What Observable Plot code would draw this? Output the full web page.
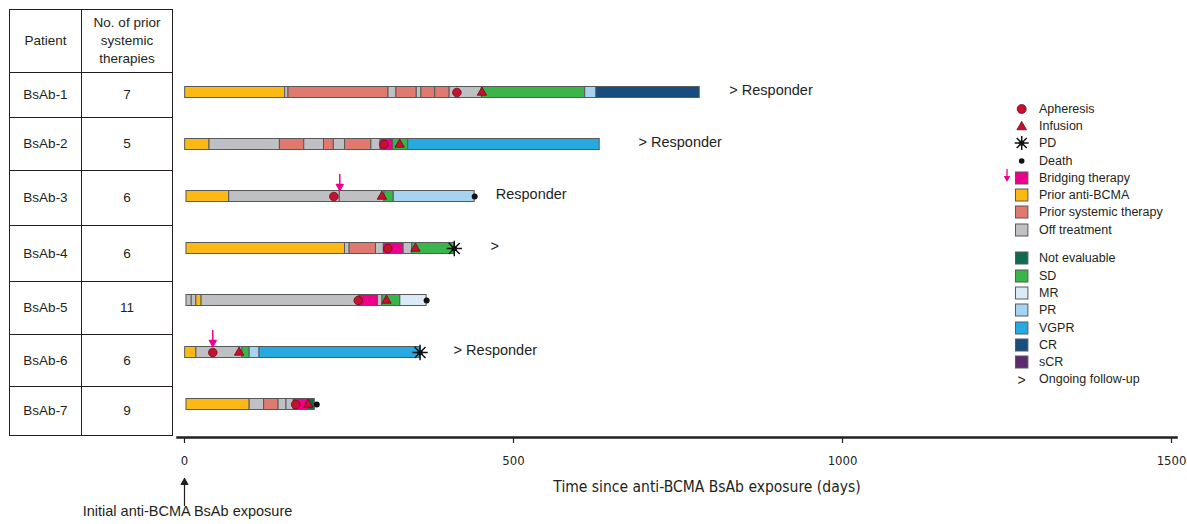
<!DOCTYPE html>
<html>
<head>
<meta charset="utf-8">
<script src="https://cdn.jsdelivr.net/npm/d3@7"></script>
<script src="https://cdn.jsdelivr.net/npm/@observablehq/plot@0.6"></script>
<style>
  body { margin: 0; background: #fff; }
  #wrap { position: relative; width: 1187px; height: 524px; overflow: hidden;
          font-family: "Liberation Sans", Arial, sans-serif; color: #231f20; }
  #chart { position: absolute; left: 0; top: 0; }
  #tbl { position: absolute; left: 9px; top: 9px; border-collapse: collapse; font-size: 13.5px; }
  #tbl td, #tbl th { border: 1.2px solid #231f20; text-align: center; font-weight: normal; padding: 0; line-height: 18px; }
  #legend { position: absolute; left: 1000px; top: 100px; font-size: 12.5px; }
  #legend .row { display: flex; align-items: center; height: 17.3px; white-space: nowrap; }
  #legend .gap { height: 11.4px; }
  #legend svg { flex: none; }
</style>
</head>
<body>
<div id="wrap">
  <div id="chart"></div>
  <table id="tbl"></table>
  <div id="legend"></div>
</div>
<script>
// ---------------- data ----------------
const patients = ["BsAb-1", "BsAb-2", "BsAb-3", "BsAb-4", "BsAb-5", "BsAb-6", "BsAb-7"];
const priorTherapies = [7, 5, 6, 6, 11, 6, 9];
const tableHeader = ["Patient", "No. of prior\nsystemic\ntherapies"];

const markerLegend = ["Apheresis", "Infusion", "PD", "Death"];
const therapyLegend = ["Bridging therapy", "Prior anti-BCMA", "Prior systemic therapy", "Off treatment"];
const responseLegend = ["Not evaluable", "SD", "MR", "PR", "VGPR", "CR", "sCR"];
const followUpLegend = "Ongoing follow-up";

// [patient, start day, end day, status]
const segments = [
  ["BsAb-1", 1, 153, "Prior anti-BCMA"],
  ["BsAb-1", 153, 158, "Off treatment"],
  ["BsAb-1", 158, 310, "Prior systemic therapy"],
  ["BsAb-1", 310, 322, "Off treatment"],
  ["BsAb-1", 322, 353, "Prior systemic therapy"],
  ["BsAb-1", 353, 360, "Off treatment"],
  ["BsAb-1", 360, 381, "Prior systemic therapy"],
  ["BsAb-1", 381, 403, "Prior systemic therapy"],
  ["BsAb-1", 403, 452, "Off treatment"],
  ["BsAb-1", 452, 609, "SD"],
  ["BsAb-1", 609, 626, "PR"],
  ["BsAb-1", 626, 783, "CR"],

  ["BsAb-2", 1, 38, "Prior anti-BCMA"],
  ["BsAb-2", 38, 145, "Off treatment"],
  ["BsAb-2", 145, 182, "Prior systemic therapy"],
  ["BsAb-2", 182, 212, "Off treatment"],
  ["BsAb-2", 212, 227, "Prior systemic therapy"],
  ["BsAb-2", 227, 244, "Off treatment"],
  ["BsAb-2", 244, 284, "Prior systemic therapy"],
  ["BsAb-2", 284, 298, "Off treatment"],
  ["BsAb-2", 298, 317, "Bridging therapy"],
  ["BsAb-2", 317, 340, "SD"],
  ["BsAb-2", 340, 631, "VGPR"],

  ["BsAb-3", 3, 68, "Prior anti-BCMA"],
  ["BsAb-3", 68, 236, "Off treatment"],
  ["BsAb-3", 236, 304, "Off treatment"],
  ["BsAb-3", 304, 318, "SD"],
  ["BsAb-3", 318, 441, "PR"],

  ["BsAb-4", 3, 244, "Prior anti-BCMA"],
  ["BsAb-4", 244, 251, "Off treatment"],
  ["BsAb-4", 251, 291, "Prior systemic therapy"],
  ["BsAb-4", 291, 303, "Off treatment"],
  ["BsAb-4", 303, 333, "Bridging therapy"],
  ["BsAb-4", 333, 346, "Off treatment"],
  ["BsAb-4", 346, 410, "SD"],

  ["BsAb-5", 3, 11, "Off treatment"],
  ["BsAb-5", 11, 18, "Off treatment"],
  ["BsAb-5", 18, 26, "Prior anti-BCMA"],
  ["BsAb-5", 26, 265, "Off treatment"],
  ["BsAb-5", 265, 294, "Bridging therapy"],
  ["BsAb-5", 294, 301, "Off treatment"],
  ["BsAb-5", 301, 328, "SD"],
  ["BsAb-5", 328, 368, "MR"],

  ["BsAb-6", 1, 18, "Prior anti-BCMA"],
  ["BsAb-6", 18, 88, "Off treatment"],
  ["BsAb-6", 88, 99, "SD"],
  ["BsAb-6", 99, 114, "PR"],
  ["BsAb-6", 114, 358, "VGPR"],

  ["BsAb-7", 3, 99, "Prior anti-BCMA"],
  ["BsAb-7", 99, 121, "Off treatment"],
  ["BsAb-7", 121, 143, "Prior systemic therapy"],
  ["BsAb-7", 143, 155, "Off treatment"],
  ["BsAb-7", 155, 166, "Off treatment"],
  ["BsAb-7", 166, 188, "Bridging therapy"],
  ["BsAb-7", 188, 198, "Not evaluable"]
];

const apheresisDays = [414, 303, 227, 309, 264, 43, 169];
const infusionDays  = [452, 327, 300, 351, 307, 83, 188];
const pdEvents      = [["BsAb-4", 410], ["BsAb-6", 358]];
const deathEvents   = [["BsAb-3", 441], ["BsAb-5", 368], ["BsAb-7", 201]];
const bridgingArrows = [["BsAb-3", 236], ["BsAb-6", 43]];
const endLabels = [
  ["BsAb-1", 828, "> Responder"],
  ["BsAb-2", 690, "> Responder"],
  ["BsAb-3", 473, "Responder"],
  ["BsAb-4", 465, ">"],
  ["BsAb-6", 409, "> Responder"]
];
const xTicks = [0, 500, 1000, 1500];
const xTitle = "Time since anti-BCMA BsAb exposure (days)";
const startNote = "Initial anti-BCMA BsAb exposure";

// ---------------- styles ----------------
const statusColors = ["#ec008c", "#fdb913", "#e07a6e", "#bfc0c4",
                      "#0f6b4f", "#3ab54a", "#dbeaf7", "#a5d3f1", "#27aae1", "#174d7f", "#5c2a6e"];
const statuses = [...therapyLegend, ...responseLegend];
const red = "#c8102e", redEdge = "#6a0b17", ink = "#231f20", barEdge = "#58595b", pink = "#ec008c";
const narrow = "'DejaVu Sans Condensed', 'Liberation Sans Narrow', sans-serif";

// ---------------- tables built from data ----------------
const segData = segments.map(([patient, start, end, status]) => ({patient, start, end, status}));
const aph = patients.map((patient, i) => ({patient, day: apheresisDays[i]}));
const inf = patients.map((patient, i) => ({patient, day: infusionDays[i]}));
const pd = pdEvents.map(([patient, day]) => ({patient, day}));
const death = deathEvents.map(([patient, day]) => ({patient, day}));
const bridge = bridgingArrows.map(([patient, day]) => ({patient, day}));
const labels = endLabels.map(([patient, day, text]) => ({patient, day, text}));

const arrowShape = {
  draw(ctx, l) {
    const h = 6, w = 3.3;
    ctx.moveTo(0, 0);
    ctx.lineTo(0, -l + h);
    ctx.moveTo(-w, h - l);
    ctx.lineTo(0, -l);
    ctx.lineTo(w, h - l);
    ctx.closePath();
  }
};

const chart = Plot.plot({
  width: 1187,
  height: 524,
  marginLeft: 184,
  marginRight: 16,
  marginTop: 63,
  marginBottom: 87,
  style: {fontFamily: "'Liberation Sans', Arial, sans-serif", color: ink, background: "transparent", overflow: "visible"},
  x: {domain: [0, 1500], axis: null},
  y: {type: "band", domain: patients, range: [63.4, 431.6], padding: 0, axis: null},
  color: {domain: statuses, range: statusColors},
  marks: [
    Plot.frame({anchor: "bottom", stroke: ink, strokeWidth: 2.5, insetLeft: -7, insetRight: -5}),
    Plot.axisX({ticks: xTicks, tickFormat: d3.format("d"), tickSize: 6, tickPadding: 12, fontSize: 13,
      fontFamily: narrow, label: null, stroke: ink, strokeWidth: 1.2}),
    Plot.barX(segData, {x1: "start", x2: "end", y: "patient", fill: "status",
      stroke: barEdge, strokeWidth: 1, insetTop: 20.5, insetBottom: 20.5}),
    Plot.vector(bridge, {x: "day", y: "patient", rotate: 180, length: 16, anchor: "end", dy: -6,
      shape: arrowShape, stroke: pink, fill: pink, strokeWidth: 1.5}),
    Plot.dot(aph, {x: "day", y: "patient", r: 4.3, fill: red, stroke: redEdge, strokeWidth: 0.8}),
    Plot.dot(inf, {x: "day", y: "patient", symbol: "triangle", r: 3.5, fill: red, stroke: redEdge, strokeWidth: 0.8}),
    Plot.dot(pd, {x: "day", y: "patient", symbol: "plus", r: 5, stroke: "#111", strokeWidth: 1.5}),
    Plot.dot(pd, {x: "day", y: "patient", symbol: "times", r: 5, stroke: "#111", strokeWidth: 1.5}),
    Plot.dot(pd, {x: "day", y: "patient", r: 2.8, fill: "#111"}),
    Plot.dot(death, {x: "day", y: "patient", r: 3, fill: "#111"}),
    Plot.text(labels, {x: "day", y: "patient", text: "text", textAnchor: "start", fontSize: 14.5, fill: ink, dy: -2}),
    Plot.vector([0], {x: d => d, frameAnchor: "bottom", anchor: "start", rotate: 0, length: 27, dy: 68,
      shape: arrowShape, stroke: ink, fill: ink, strokeWidth: 1.2}),
    Plot.text([startNote], {x: 0, frameAnchor: "bottom", text: d => d, dy: 78, dx: 3, fontSize: 14.5, fill: ink}),
    Plot.text([xTitle], {frameAnchor: "bottom", text: d => d, dy: 54, dx: 29, fontSize: 15.5, fontFamily: narrow, fill: ink})
  ]
});
document.getElementById("chart").append(chart);

// ---------------- table ----------------
const rowHeights = [63, 45, 53, 55, 56, 53, 52, 49];
const colWidths = [71, 90];
const tbl = document.getElementById("tbl");
{
  const tr = document.createElement("tr");
  tr.style.height = rowHeights[0] + "px";
  tableHeader.forEach((h, j) => {
    const th = document.createElement("th");
    th.style.width = colWidths[j] + "px";
    th.innerHTML = h.split("\n").join("<br>");
    tr.append(th);
  });
  tbl.append(tr);
}
patients.forEach((p, i) => {
  const tr = document.createElement("tr");
  tr.style.height = rowHeights[i + 1] + "px";
  [p, priorTherapies[i]].forEach(v => {
    const td = document.createElement("td");
    td.textContent = v;
    tr.append(td);
  });
  tbl.append(tr);
});

// ---------------- legend ----------------
const legend = document.getElementById("legend");
const colorOf = s => statusColors[statuses.indexOf(s)];
const NS = "http://www.w3.org/2000/svg";
function markerSvg(kind, s) {
  const svg = document.createElementNS(NS, "svg");
  svg.setAttribute("width", 39); svg.setAttribute("height", 18);
  let html = "";
  const cx = 21.7, cy = 9;
  if (kind === "Apheresis") html = `<circle cx="${cx}" cy="${cy}" r="4.5" fill="${red}" stroke="${redEdge}" stroke-width="0.8"/>`;
  else if (kind === "Infusion") html = `<path d="${d3.symbol(d3.symbolTriangle, 40)()}" transform="translate(${cx},${cy + 1})" fill="${red}" stroke="${redEdge}" stroke-width="0.8"/>`;
  else if (kind === "PD") html = `<g stroke="#111" stroke-width="1.5"><path d="M${cx - 7},${cy}H${cx + 7}M${cx},${cy - 7}V${cy + 7}M${cx - 5},${cy - 5}L${cx + 5},${cy + 5}M${cx - 5},${cy + 5}L${cx + 5},${cy - 5}"/></g><circle cx="${cx}" cy="${cy}" r="2.6" fill="#111"/>`;
  else if (kind === "Death") html = `<circle cx="${cx}" cy="${cy}" r="2.8" fill="#111"/>`;
  else if (kind === "follow") html = `<text x="${cx}" y="${cy + 5}" text-anchor="middle" font-size="14" fill="${ink}">&gt;</text>`;
  else {
    html = `<rect x="${cx - 6.2}" y="${cy - 6}" width="12.4" height="12" fill="${colorOf(s)}" stroke="${barEdge}" stroke-width="1"/>`;
    if (s === "Bridging therapy") html += `<path d="M7,0V9" stroke="${pink}" stroke-width="1.3"/><path d="M3.8,7L7,13L10.2,7Z" fill="${pink}"/>`;
  }
  svg.innerHTML = html;
  return svg;
}
function addRow(kind, label) {
  const row = document.createElement("div");
  row.className = "row";
  row.append(markerSvg(kind, label));
  const span = document.createElement("span");
  span.textContent = label;
  row.append(span);
  legend.append(row);
}
markerLegend.forEach(m => addRow(m, m));
therapyLegend.forEach(s => addRow("square", s));
{ const g = document.createElement("div"); g.className = "gap"; legend.append(g); }
responseLegend.forEach(s => addRow("square", s));
addRow("follow", followUpLegend);
</script>
</body>
</html>
